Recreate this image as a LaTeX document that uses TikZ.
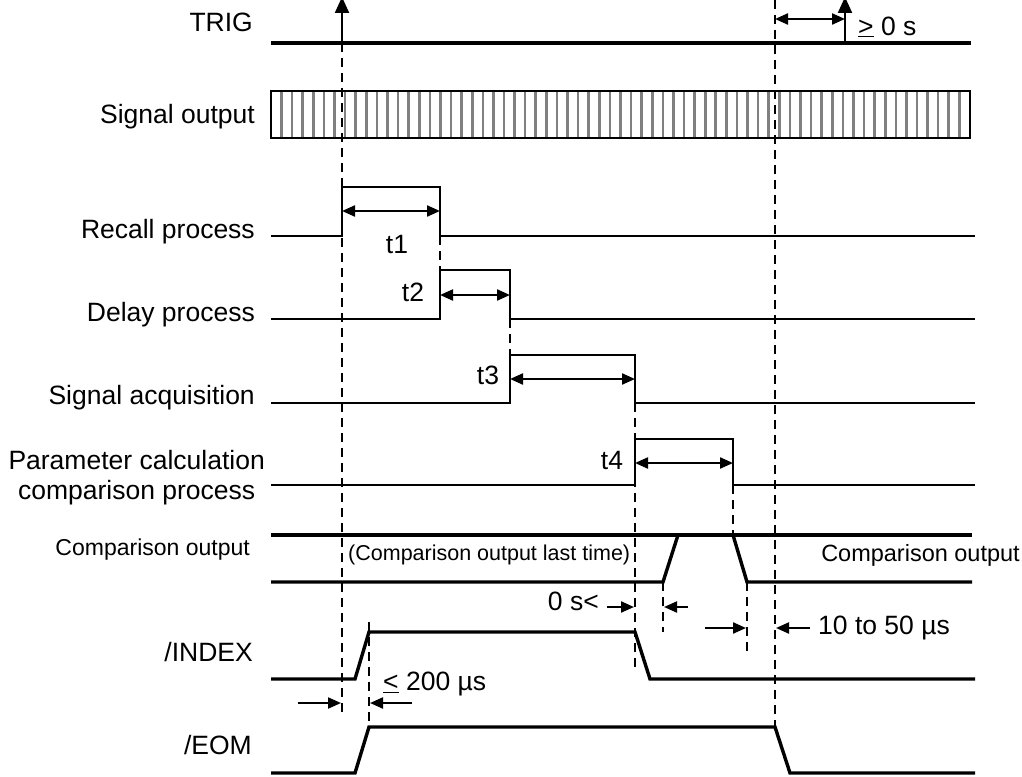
\documentclass[tikz,border=0pt]{standalone}
\usepackage{fontspec}
\setmainfont{Liberation Sans}
\usetikzlibrary{arrows.meta}
\begin{document}
\begin{tikzpicture}[x=1pt,y=-1pt,
  lbl/.style={anchor=east,font=\fontsize{26.5}{30}\selectfont,inner sep=0pt},
  txt/.style={font=\fontsize{26.5}{30}\selectfont,inner sep=0pt},
  small/.style={font=\fontsize{23}{26}\selectfont,inner sep=0pt},
  bus/.style={line width=3.4pt},
  proc/.style={line width=1.8pt},
  guide/.style={line width=2.6pt,dash pattern=on 9pt off 6pt},
  dim/.style={line width=2.2pt,{Triangle[length=13pt,width=11pt]}-{Triangle[length=13pt,width=11pt]}},
  ptr/.style={line width=2.2pt,-{Triangle[length=13pt,width=11pt]}},
]
\useasboundingbox (0,0) rectangle (1022,776);

% labels
\node[lbl] (ltrig) at (253,22) {TRIG};
\node[lbl] (lsig) at (255,117) {Signal output};
\node[lbl] (lrec) at (255,232) {Recall process};
\node[lbl] (ldel) at (255,315) {Delay process};
\node[lbl] (lacq) at (255,398) {Signal acquisition};
\node[lbl,align=center] (lpar) at (265,478) {Parameter calculation\\comparison process};
\node[small,anchor=east] (lcmp) at (250,550) {Comparison output};
\node[lbl] (lidx) at (253,652) {/INDEX};
\node[lbl] (leom) at (252,745) {/EOM};

% signal output bar
\foreach \k in {1,...,65}
  \draw[gray,line width=2.6pt] ({271+10.59*\k},91) -- ({271+10.59*\k},138);
\draw[line width=1.8pt] (271,91) rectangle (970,138);

% TRIG
\draw[bus] (271,43) -- (971,43);
\draw[ptr,-{Triangle[length=16pt,width=14pt]}] (342,43) -- (342,-3);
\draw[ptr,-{Triangle[length=16pt,width=14pt]}] (845,43) -- (845,-3);
\draw[dim] (775,19) -- (845,19);
\node[txt,anchor=west] (tge) at (858,27) {\underline{>} 0 s};

% processes
\draw[proc] (271,236) -- (342,236) -- (342,187) -- (440,187) -- (440,236) -- (975,236);
\draw[proc] (271,319) -- (440,319) -- (440,270) -- (510,270) -- (510,319) -- (975,319);
\draw[proc] (271,403) -- (510,403) -- (510,355) -- (635,355) -- (635,403) -- (975,403);
\draw[proc] (271,485) -- (635,485) -- (635,439) -- (733,439) -- (733,485) -- (975,485);

\draw[dim] (342,211) -- (440,211);
\draw[dim] (440,295) -- (510,295);
\draw[dim] (510,379) -- (635,379);
\draw[dim] (635,463) -- (733,463);
\node[txt] (t1) at (397,244) {t1};
\node[txt] (t2) at (413,292) {t2};
\node[txt] (t3) at (488,375) {t3};
\node[txt] (t4) at (612,460) {t4};

% comparison output
\draw[bus] (271,535) -- (972,535);
\draw[bus] (271,582) -- (663,582) -- (678,535);
\draw[bus] (733,535) -- (747,582) -- (972,582);
\node[font=\fontsize{21.5}{25}\selectfont,inner sep=0pt,anchor=west] (clast) at (348,555) {(Comparison output last time)};
\node[font=\fontsize{23.5}{27}\selectfont,inner sep=0pt,anchor=east] (cnew) at (1020,555) {Comparison output};

% INDEX and EOM
\draw[bus] (271,679) -- (355,679) -- (369,632) -- (635,632) -- (650,679) -- (975,679);
\draw[bus] (271,773) -- (355,773) -- (369,727) -- (775,727) -- (790,773) -- (975,773);

% guide lines
\draw[guide] (342,43) -- (342,715);
\draw[guide] (775,0) -- (775,727);
\draw[guide] (440,236) -- (440,270);
\draw[guide] (510,319) -- (510,355);
\draw[guide] (635,403) -- (635,667);
\draw[guide] (733,485) -- (733,535);
\draw[guide] (663,582) -- (663,632);
\draw[guide] (747,582) -- (747,655);
\draw[guide] (369,622) -- (369,727);

% timing annotations
\node[txt,anchor=east] (zs) at (599,601) {0 s<};
\draw[ptr] (607,607) -- (634,607);
\draw[ptr] (688,607) -- (664,607);
\draw[ptr] (705,628) -- (746,628);
\draw[ptr] (810,628) -- (776,628);
\node[txt,anchor=west] (t1050) at (818,628) {10 to 50 µs};
\draw[ptr] (298,703) -- (341,703);
\draw[ptr] (412,703) -- (370,703);
\node[txt,anchor=west] (t200) at (383,684) {\underline{<} 200 µs};
\end{tikzpicture}
\end{document}
